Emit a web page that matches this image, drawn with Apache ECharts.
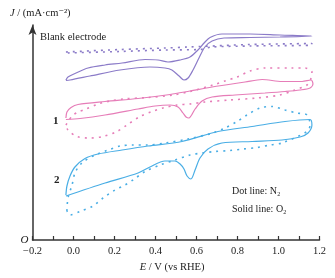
<!DOCTYPE html>
<html>
<head>
<meta charset="utf-8">
<script src="https://cdn.jsdelivr.net/npm/echarts@6/dist/echarts.min.js"></script>
<style>
  html, body { margin: 0; padding: 0; background: #fff; }
  #chart { width: 335px; height: 278px; }
</style>
</head>
<body>
<div id="chart"></div>
<script>
// CV loops, [E (V vs RHE), J]; J is offset per curve (no scale shown)
const blankO2 = [[-0.037,16.0],[-0.027,16.3],[0.007,16.65],[0.071,17.2],[0.154,17.5],[0.237,17.7],[0.349,18.05],[0.412,18.0],[0.461,17.8],[0.520,18.0],[0.568,18.3],[0.607,19.0],[0.637,19.7],[0.666,20.25],[0.724,20.6],[0.861,20.6],[1.007,20.5],[1.163,20.4],
  [1.007,20.3],[0.861,20.25],[0.734,20.2],[0.676,19.9],[0.641,19.3],[0.612,18.2],[0.583,17.0],[0.559,16.2],[0.539,16.0],[0.515,16.4],[0.480,17.0],[0.446,17.2],[0.373,17.3],[0.227,17.0],[0.080,16.4],[-0.017,16.0],[-0.037,15.95]]
const blankN2 = [[-0.037,18.8],[0.227,19.05],[0.446,19.2],[0.559,19.3],[0.861,19.55],[1.163,19.65],
  [1.163,19.5],[0.861,19.4],[0.676,19.3],[0.617,19.05],[0.446,19.0],[0.227,18.85],[-0.037,18.7]]
const sample1O2 = [[-0.037,12.2],[-0.032,12.8],[-0.012,13.25],[0.022,13.55],[0.154,13.85],[0.315,14.15],[0.471,14.55],[0.568,14.9],[0.676,15.3],[0.837,15.8],[0.920,16.05],[1.017,15.85],[1.115,15.85],[1.159,16.0],[1.168,15.6],
  [1.154,15.2],[1.105,15.0],[1.032,14.85],[0.934,14.7],[0.788,14.5],[0.676,14.3],[0.627,13.9],[0.593,13.1],[0.563,12.2],[0.549,12.3],[0.534,12.7],[0.510,13.3],[0.471,13.5],[0.398,13.4],[0.315,13.1],[0.154,12.5],[0.032,12.15],[-0.037,12.05]]
const sample1N2 = [[-0.037,11.5],[-0.007,12.4],[0.022,12.8],[0.056,13.05],[0.120,13.6],[0.178,13.9],[0.241,14.1],[0.363,14.25],[0.485,14.5],[0.568,14.85],[0.680,15.5],[0.739,15.9],[0.798,16.3],[0.861,16.9],[0.934,17.2],[1.066,17.2],[1.129,17.2],[1.163,16.8],
  [1.159,16.2],[1.139,15.5],[1.080,15.0],[1.007,14.5],[0.895,14.2],[0.763,14.0],[0.641,13.8],[0.568,13.6],[0.505,13.5],[0.437,13.2],[0.383,12.85],[0.324,12.35],[0.261,11.5],[0.212,10.85],[0.144,10.35],[0.080,10.2],[0.017,10.35],[-0.027,11.0],[-0.037,11.5]]
const sample2O2 = [[-0.037,4.5],[-0.032,5.4],[-0.017,6.4],[0.007,7.3],[0.056,8.15],[0.120,8.6],[0.237,9.0],[0.363,9.4],[0.529,9.85],[0.705,10.85],[0.871,11.35],[1.032,11.85],[1.154,12.05],[1.163,11.5],[1.144,10.7],
  [1.105,10.3],[1.017,10.0],[0.871,9.85],[0.724,9.7],[0.656,9.1],[0.617,8.2],[0.593,7.0],[0.573,6.1],[0.554,6.4],[0.539,7.1],[0.520,7.6],[0.495,7.9],[0.446,7.9],[0.373,7.3],[0.315,6.7],[0.154,5.7],[-0.037,4.4]]
const sample2N2 = [[-0.032,2.9],[-0.027,4.2],[-0.007,5.5],[0.007,6.7],[0.041,7.7],[0.105,8.5],[0.163,8.95],[0.227,9.4],[0.290,9.5],[0.359,9.5],[0.446,9.7],[0.559,10.1],[0.680,10.7],[0.739,11.2],[0.798,11.85],[0.846,12.5],[0.910,13.2],[0.968,13.35],[1.032,13.0],[1.090,12.7],[1.139,12.5],[1.154,11.5],[1.139,10.85],
  [1.017,9.7],[0.959,9.5],[0.895,9.25],[0.827,9.1],[0.763,8.95],[0.690,8.85],[0.627,8.7],[0.568,8.5],[0.495,8.0],[0.422,7.5],[0.349,6.85],[0.290,6.0],[0.251,5.5],[0.202,5.0],[0.144,4.2],[0.095,3.4],[0.032,2.85],[-0.017,2.5],[-0.032,2.9]]

const xMin = -0.2, xMax = 1.2, xStep = 0.2
const serif = "'Liberation Serif', 'DejaVu Serif', serif"
const axisColor = '#333'

const colors = { blank: '#8b7bc8', s1: '#e67db8', s2: '#4aaee5' }

const solid = (name, data, color) => ({
  name, type: 'line', data, showSymbol: false, smooth: 0.3,
  lineStyle: { color, width: 1.2 }
})
const dotted = (name, data, color) => ({
  name, type: 'line', data, showSymbol: false, smooth: 0.3,
  lineStyle: { color, width: 1.6, type: [2, 5] }
})

const chart = echarts.init(document.getElementById('chart'))

chart.setOption({
  animation: false,
  grid: { left: 32.5, right: 15.5, top: 25, bottom: 38 },
  xAxis: {
    type: 'value',
    min: xMin, max: xMax, interval: xStep,
    name: '{i|E} / V (vs RHE)',
    nameLocation: 'middle',
    nameGap: 22,
    nameTextStyle: {
      fontFamily: serif, fontSize: 10.5, color: '#222', padding: [0, 8, 0, 0],
      rich: { i: { fontFamily: serif, fontSize: 10.5, fontStyle: 'italic', color: '#222' } }
    },
    axisLine: { onZero: false, lineStyle: { color: axisColor, width: 1.5 } },
    axisTick: { inside: true, length: 4, lineStyle: { color: axisColor, width: 1.2 } },
    minorTick: { show: true, splitNumber: 2, length: 4, lineStyle: { color: axisColor, width: 1.2 } },
    axisLabel: {
      fontFamily: serif, fontSize: 10.5, color: '#222', margin: 6,
      formatter: v => v.toFixed(1).replace('-', '\u2212')
    },
    splitLine: { show: false }
  },
  yAxis: {
    type: 'value',
    min: 0, max: 21.5, interval: 5,
    axisLine: {
      show: true, onZero: false, symbol: ['none', 'arrow'], symbolSize: [6, 10],
      lineStyle: { color: axisColor, width: 1.5 }
    },
    axisTick: { show: false },
    axisLabel: {
      fontFamily: serif, fontSize: 11, fontStyle: 'italic', color: '#222', margin: 4,
      formatter: v => (v === 0 ? 'O' : '')
    },
    splitLine: { show: false }
  },
  graphic: [
    {
      type: 'text', left: 10, top: 8,
      style: {
        text: '{i|J} / (mA\u00b7cm\u207b\u00b2)',
        fontFamily: serif, fontSize: 10.5, fill: '#222',
        rich: { i: { fontFamily: serif, fontSize: 10.5, fontStyle: 'italic', fill: '#222' } }
      }
    },
    { type: 'text', left: 40, top: 32, style: { text: 'Blank electrode', fontFamily: serif, fontSize: 10.5, fill: '#222' } },
    { type: 'text', left: 53, top: 116, style: { text: '1', fontFamily: serif, fontSize: 11, fontWeight: 'bold', fill: '#222' } },
    { type: 'text', left: 54, top: 175, style: { text: '2', fontFamily: serif, fontSize: 11, fontWeight: 'bold', fill: '#222' } },
    { type: 'text', left: 232, top: 186, style: { text: 'Dot line: N\u2082', fontFamily: serif, fontSize: 10, fill: '#222' } },
    { type: 'text', left: 232, top: 204, style: { text: 'Solid line: O\u2082', fontFamily: serif, fontSize: 10, fill: '#222' } }
  ],
  series: [
    dotted('Blank N2', blankN2, colors.blank),
    solid('Blank O2', blankO2, colors.blank),
    dotted('1 N2', sample1N2, colors.s1),
    solid('1 O2', sample1O2, colors.s1),
    dotted('2 N2', sample2N2, colors.s2),
    solid('2 O2', sample2O2, colors.s2)
  ]
})
</script>
</body>
</html>
